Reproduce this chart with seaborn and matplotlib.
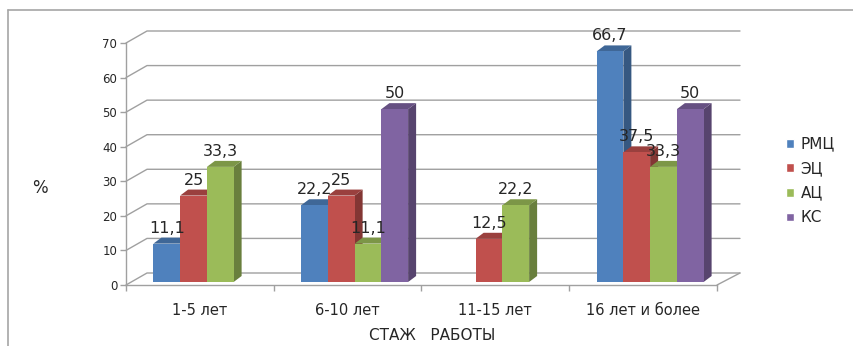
import numpy as np
import pandas as pd
import seaborn as sns
import matplotlib
matplotlib.use("Agg")
import matplotlib.pyplot as plt
from matplotlib.patches import Polygon, Patch
from matplotlib.lines import Line2D
from matplotlib.colors import to_rgb

categories = ["1-5 лет", "6-10 лет", "11-15 лет", "16 лет и более"]
series = ["РМЦ", "ЭЦ", "АЦ", "КС"]
rmc = [11.1, 22.2, 0, 66.7]
ec = [25, 25, 12.5, 37.5]
ac = [33.3, 11.1, 22.2, 33.3]
ks = [0, 50, 0, 50]
colors = ["#4F81BD", "#C0504D", "#9BBB59", "#8064A2"]
yticks = [0, 10, 20, 30, 40, 50, 60, 70]

df = pd.DataFrame({
    "stage": categories * 4,
    "group": np.repeat(series, 4),
    "value": rmc + ec + ac + ks,
})

sns.set_style("white")
plt.rcParams["font.family"] = ["DejaVu Sans"]
grid_c = "#a0a0a0"

W, H = 854, 346
fig = plt.figure(figsize=(W / 100, H / 100), dpi=100)
ax = fig.add_axes([126 / W, 1 - 285 / H, (717 - 126) / W, (285 - 43) / H])

sns.barplot(data=df, x="stage", y="value", hue="group", hue_order=series,
            order=categories, palette=colors, width=0.724, saturation=1,
            errorbar=None, legend=False, ax=ax, edgecolor="none", linewidth=0)
ax.set_xlim(-0.5, 3.5)
ax.set_ylim(0, 70)

# pixel -> data units
p0 = ax.transData.transform((0, 0))
p1 = ax.transData.transform((1, 1))
ux, uy = p1[0] - p0[0], p1[1] - p0[1]

# back wall grid lines with a little 3d depth
gx, gy = 21 / ux, 12 / uy
xr = -0.5 + (740 - 126) / ux
for v in yticks:
    ax.plot([-0.5, -0.5 + gx, xr], [v, v + gy, v + gy], color=grid_c, lw=1,
            clip_on=False, zorder=1)
ax.plot([3.5, xr], [0, gy], color=grid_c, lw=1, clip_on=False, zorder=1)

# 3d look for the bars
bars = sorted(ax.patches, key=lambda p: p.get_x())
sx, sy = 7 / ux, 3 / uy
dx, dy = 8 / ux, 6 / uy
for k, p in enumerate(bars):
    h = p.get_height()
    if not h or h <= 0:
        p.set_visible(False)
        continue
    p.set_x(p.get_x() + sx)
    p.set_y(sy)
    z = 3 + 0.01 * k
    p.set_zorder(z)
    x0, x1 = p.get_x(), p.get_x() + p.get_width()
    top = sy + h
    c = np.array(to_rgb(p.get_facecolor()))
    side = Polygon([(x1, sy), (x1, top), (x1 + dx, top + dy), (x1 + dx, sy + dy)],
                   closed=True, facecolor=c * 0.68, edgecolor="none", zorder=z - 0.005)
    lid = Polygon([(x0, top), (x1, top), (x1 + dx, top + dy), (x0 + dx, top + dy)],
                  closed=True, facecolor=c * 0.8, edgecolor="none", zorder=z - 0.005)
    ax.add_patch(side)
    ax.add_patch(lid)
    lbl = f"{h:g}".replace(".", ",")
    ax.text((x0 + x1) / 2, top + 11 / uy, lbl, ha="center", va="baseline",
            fontsize=11.5, zorder=10, clip_on=False)

for s in ["top", "right"]:
    ax.spines[s].set_visible(False)
for s in ["left", "bottom"]:
    ax.spines[s].set_color(grid_c)
    ax.spines[s].set_linewidth(1)
    ax.spines[s].set_zorder(2)

ax.set_yticks(yticks)
ax.set_xticks([-0.5, 0.5, 1.5, 2.5, 3.5], minor=True)
ax.tick_params(axis="y", left=True, length=4.3, width=1, color=grid_c, pad=2,
               labelsize=8.5)
ax.tick_params(axis="x", which="major", bottom=True, length=0, pad=13,
               labelsize=10.5)
ax.tick_params(axis="x", which="minor", bottom=True, length=4.3, width=1,
               color=grid_c)
ax.set_xlabel("")
ax.set_ylabel("")

fig.text(40 / W, 1 - 188 / H, "%", fontsize=12, ha="center", va="center")
fig.text(432 / W, 1 - 335 / H, "СТАЖ   РАБОТЫ", fontsize=11, ha="center",
         va="center")

handles = [Patch(facecolor=c, label=s) for c, s in zip(colors, series)]
fig.legend(handles=handles, loc="center left", bbox_to_anchor=(778 / W, 1 - 181 / H),
           frameon=False, fontsize=11, handlelength=0.52, handleheight=0.52,
           handletextpad=0.45, labelspacing=0.63, borderpad=0)

# outer frame (top and left edge visible in the picture)
fig.add_artist(Line2D([8 / W, 1], [1 - 10 / H, 1 - 10 / H], transform=fig.transFigure,
                      color="#a6a6a6", lw=1.2))
fig.add_artist(Line2D([8 / W, 8 / W], [1 - 10 / H, 0], transform=fig.transFigure,
                      color="#a6a6a6", lw=1.2))

fig.savefig("out.png", dpi=100)
